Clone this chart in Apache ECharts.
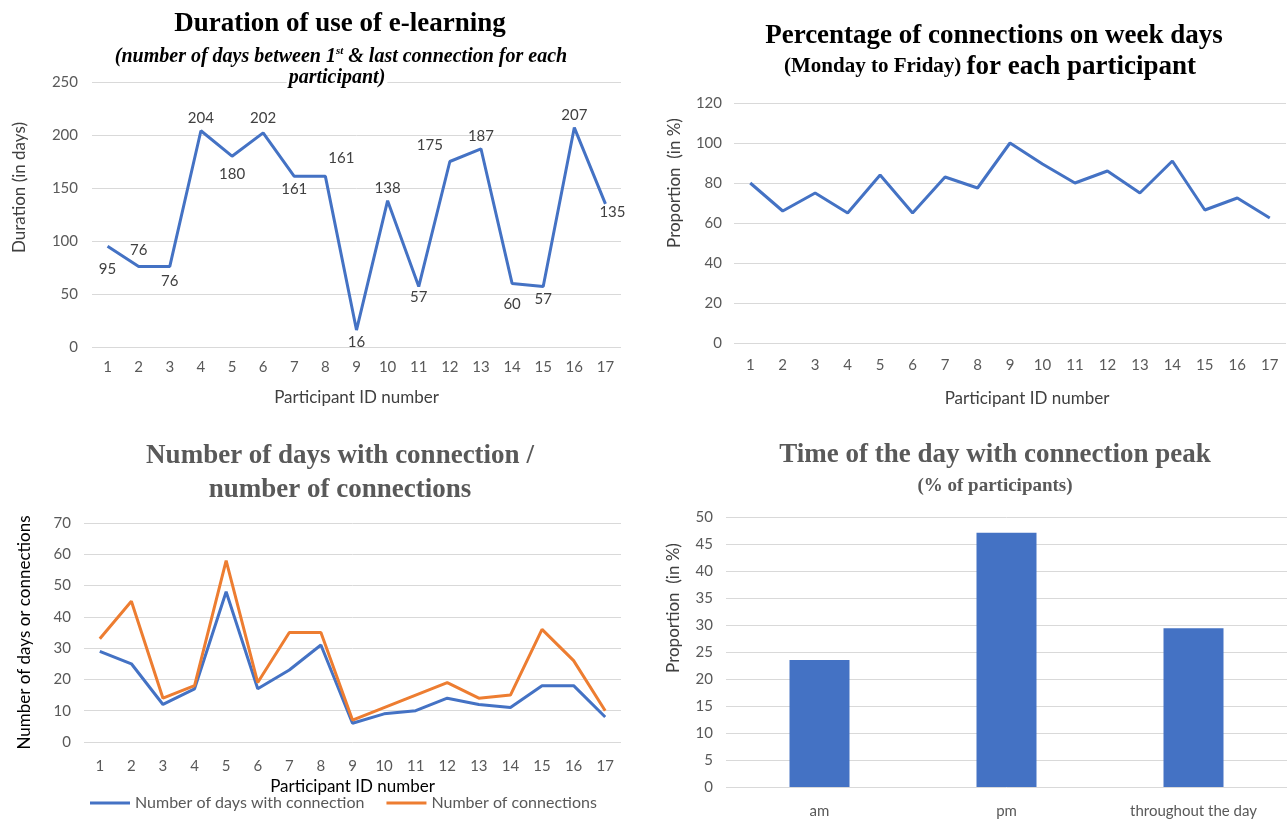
<!DOCTYPE html>
<html>
<head>
<meta charset="utf-8">
<script src="https://cdn.jsdelivr.net/npm/echarts@6/dist/echarts.min.js"></script>
<style>
  html, body { margin: 0; padding: 0; background: #fff; }
  #main { width: 1287px; height: 819px; }
</style>
</head>
<body>
<div id="main"></div>
<script>
// participant ids 1..17
var participants = ['1','2','3','4','5','6','7','8','9','10','11','12','13','14','15','16','17'];

// top left: days between first and last connection
var durationDays = [95, 76, 76, 204, 180, 202, 161, 161, 16, 138, 57, 175, 187, 60, 57, 207, 135];

// top right: % of connections monday-friday
var weekdayPct = [80, 66, 75, 65, 84, 65, 83, 77.5, 100, 89.5, 80, 86, 75, 91, 66.5, 72.5, 62.5];

// bottom left
var daysWithConn = [29, 25, 12, 17, 48, 17, 23, 31, 6, 9, 10, 14, 12, 11, 18, 18, 8];
var nbConnections = [33, 45, 14, 18, 58, 19, 35, 35, 7, 11, 15, 19, 14, 15, 36, 26, 10];

// bottom right
var peakCats = ['am', 'pm', 'throughout the day'];
var peakPct = [23.5, 47.1, 29.4];

var BLUE = '#4472C4', ORANGE = '#ED7D31';
var SANS = 'Lato';
var SERIF = 'Liberation Serif';
var tickStyle = { color: '#595959', fontSize: 15, fontFamily: SANS };
var nameStyle = { color: '#404040', fontSize: 17, fontFamily: SANS };
var splitStyle = { show: true, lineStyle: { color: '#d9d9d9', width: 1 } };

// where each duration label sits relative to its point (Excel put them by hand)
var durLabelPlace = ['bottom','top','bottom','top','bottom','top','bottom','top','bottom','top','bottom','top','top','bottom','bottom','top','bottom'];
var durLabelShift = [[0,10],[0,-4],[0,2],[0,0],[0,5],[0,-2],[0,0],[16,-6],[0,0],[0,0],[0,-2],[-20,-4],[0,0],[0,8],[0,0],[0,0],[7,-4]];

function titleText(x, y, txt, size, color, extra) {
  return { type: 'text', x: x, y: y, z: 100, style: Object.assign({
    text: txt, textAlign: 'center', textVerticalAlign: 'middle',
    fontFamily: SERIF, fontWeight: 'bold', fontSize: size, fill: color
  }, extra || {}) };
}

var chart = echarts.init(document.getElementById('main'));

chart.setOption({
  animation: false,
  graphic: [
    titleText(340, 24, 'Duration of use of e-learning', 27, '#000'),
    titleText(341, 57, '{i|(number of days between 1}{s|st}{i| & last connection for each}', 20, '#000', {
      rich: {
        i: { fontFamily: SERIF, fontWeight: 'bold', fontStyle: 'italic', fontSize: 20, fill: '#000', lineHeight: 22 },
        s: { fontFamily: SERIF, fontWeight: 'bold', fontStyle: 'italic', fontSize: 11, fill: '#000', verticalAlign: 'top', lineHeight: 22 }
      } }),
    titleText(337, 78, 'participant)', 20, '#000', { fontStyle: 'italic', backgroundColor: '#fff', padding: [0, 2] }),

    titleText(994, 36, 'Percentage of connections on week days', 27, '#000'),
    titleText(990, 67, '{s|(Monday to Friday) }{b|for each participant}', 27, '#000', {
      rich: {
        s: { fontFamily: SERIF, fontWeight: 'bold', fontSize: 21, fill: '#000' },
        b: { fontFamily: SERIF, fontWeight: 'bold', fontSize: 27, fill: '#000' }
      } }),

    titleText(340, 456, 'Number of days with connection /', 27, '#595959'),
    titleText(340, 490, 'number of connections', 27, '#595959'),

    titleText(995, 455, 'Time of the day with connection peak', 27, '#595959'),
    titleText(995, 486, '(% of participants)', 19, '#595959')
  ],
  legend: {
    left: 90, top: 795, padding: 0,
    icon: 'rect', itemWidth: 40, itemHeight: 3, itemGap: 22,
    textStyle: { color: '#595959', fontSize: 16, fontFamily: SANS },
    data: ['Number of days with connection', 'Number of connections']
  },
  grid: [
    { left: 92, top: 82, width: 529, height: 265 },
    { left: 734, top: 103, width: 552, height: 240 },
    { left: 84, top: 523, width: 537, height: 219 },
    { left: 726, top: 517, width: 561, height: 270 }
  ],
  xAxis: [
    { gridIndex: 0, type: 'category', data: participants, axisLine: { show: false }, axisTick: { show: false },
      axisLabel: Object.assign({ margin: 13 }, tickStyle),
      name: 'Participant ID number', nameLocation: 'middle', nameGap: 42, nameTextStyle: nameStyle },
    { gridIndex: 1, type: 'category', data: participants, axisLine: { show: false }, axisTick: { show: false },
      axisLabel: Object.assign({ margin: 15 }, tickStyle),
      name: 'Participant ID number', nameLocation: 'middle', nameGap: 47, nameTextStyle: Object.assign({ padding: [0, 0, 0, 34] }, nameStyle) },
    { gridIndex: 2, type: 'category', data: participants, axisLine: { show: false }, axisTick: { show: false },
      axisLabel: Object.assign({ margin: 17 }, tickStyle),
      name: 'Participant ID number', nameLocation: 'middle', nameGap: 36, nameTextStyle: Object.assign({}, nameStyle, { color: '#000' }) },
    { gridIndex: 3, type: 'category', data: peakCats, axisLine: { show: false }, axisTick: { show: false },
      axisLabel: Object.assign({ margin: 17 }, tickStyle) }
  ],
  yAxis: [
    { gridIndex: 0, type: 'value', min: 0, max: 250, interval: 50, axisLabel: Object.assign({ margin: 14 }, tickStyle), splitLine: splitStyle,
      name: 'Duration (in days)', nameLocation: 'middle', nameGap: 64, nameTextStyle: Object.assign({ padding: [0, 0, 0, 54] }, nameStyle) },
    { gridIndex: 1, type: 'value', min: 0, max: 120, interval: 20, axisLabel: Object.assign({ margin: 12 }, tickStyle), splitLine: splitStyle,
      name: 'Proportion  (in %)', nameLocation: 'middle', nameGap: 51, nameTextStyle: Object.assign({ padding: [0, 0, 0, 80] }, nameStyle) },
    { gridIndex: 2, type: 'value', min: 0, max: 70, interval: 10, axisLabel: Object.assign({ margin: 13 }, tickStyle), splitLine: splitStyle,
      name: 'Number of days or connections', nameLocation: 'middle', nameGap: 51, nameTextStyle: Object.assign({}, nameStyle, { color: '#000' }) },
    { gridIndex: 3, type: 'value', min: 0, max: 50, interval: 5, axisLabel: Object.assign({ margin: 13 }, tickStyle), splitLine: splitStyle,
      name: 'Proportion  (in %)', nameLocation: 'middle', nameGap: 44, nameTextStyle: Object.assign({ padding: [0, 0, 0, 88] }, nameStyle) }
  ],
  series: [
    {
      type: 'line', xAxisIndex: 0, yAxisIndex: 0,
      symbol: 'circle', symbolSize: 0,
      lineStyle: { color: BLUE, width: 3 }, itemStyle: { color: BLUE },
      label: { show: true, color: '#404040', fontSize: 15, fontFamily: SANS, distance: 5 },
      data: durationDays.map(function (v, i) {
        return { value: v, label: { position: durLabelPlace[i], offset: durLabelShift[i] } };
      })
    },
    {
      type: 'line', xAxisIndex: 1, yAxisIndex: 1, showSymbol: false,
      lineStyle: { color: BLUE, width: 3 }, itemStyle: { color: BLUE },
      data: weekdayPct
    },
    {
      name: 'Number of days with connection',
      type: 'line', xAxisIndex: 2, yAxisIndex: 2, showSymbol: false,
      lineStyle: { color: BLUE, width: 3 }, itemStyle: { color: BLUE },
      data: daysWithConn
    },
    {
      name: 'Number of connections',
      type: 'line', xAxisIndex: 2, yAxisIndex: 2, showSymbol: false,
      lineStyle: { color: ORANGE, width: 3 }, itemStyle: { color: ORANGE },
      data: nbConnections
    },
    {
      type: 'bar', xAxisIndex: 3, yAxisIndex: 3,
      barWidth: 60, itemStyle: { color: BLUE },
      data: peakPct
    }
  ]
});
</script>
</body>
</html>
